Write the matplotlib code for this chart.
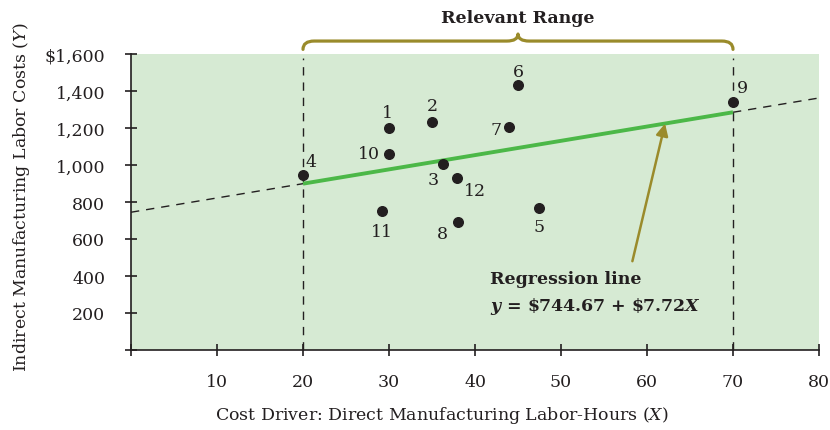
import matplotlib
matplotlib.use("Agg")
import matplotlib.pyplot as plt
from matplotlib.path import Path
from matplotlib.patches import PathPatch

plt.rcParams['font.family'] = ['DejaVu Serif']
plt.rcParams['mathtext.fontset'] = 'custom'
plt.rcParams['mathtext.it'] = 'DejaVu Serif:italic'
plt.rcParams['mathtext.bf'] = 'DejaVu Serif:italic:bold'
plt.rcParams['mathtext.rm'] = 'DejaVu Serif'

# weekly observations: labor-hours (X) and indirect labor costs (Y)
week_ids = ['1', '2', '3', '4', '5', '6', '7', '8', '9', '10', '11', '12']
labor_hours = [30, 35, 36.3, 20, 47.4, 45, 44, 38, 70, 30, 29.2, 37.9]
labor_costs = [1200, 1230, 1005, 944, 770, 1432, 1204, 690, 1340, 1059, 750, 930]
# label offsets (pixels) for each week number
label_dx = [-2, 0, -10, 8, 0, 0, -13, -15, 9, -20, 0, 18]
label_dy = [16, 17, -15, 14, -19, 14, -2, -11, 15, 1, -20, -13]

intercept = 744.67
slope = 7.72
range_lo, range_hi = 20, 70

x_ticks = [0, 10, 20, 30, 40, 50, 60, 70, 80]
x_tick_labels = ['', '10', '20', '30', '40', '50', '60', '70', '80']
y_ticks = [0, 200, 400, 600, 800, 1000, 1200, 1400, 1600]
y_tick_labels = ['', '200', '400', '600', '800', '1,000', '1,200', '1,400', '$1,600']

ink = '#231f20'
olive = '#9a8b2b'
green = '#4cb848'
fs = 12.5

fig = plt.figure(figsize=(8.30, 4.31), dpi=100)
ax = fig.add_axes([131 / 830, 80 / 431, 688 / 830, 296 / 431])
ax.set_facecolor('#d6ead3')
ax.set_xlim(0, 80)
ax.set_ylim(0, 1600)

for side in ('top', 'right'):
    ax.spines[side].set_visible(False)
for side in ('left', 'bottom'):
    ax.spines[side].set_color(ink)
    ax.spines[side].set_linewidth(1.2)

ax.set_xticks(x_ticks)
ax.set_xticklabels(x_tick_labels)
ax.set_yticks(y_ticks)
ax.set_yticklabels(y_tick_labels)
ax.tick_params(axis='both', direction='inout', length=9, width=1.2, colors=ink,
               labelsize=fs)
ax.tick_params(axis='x', pad=12)
ax.tick_params(axis='y', pad=14)

# relevant range boundaries
for xv in (range_lo, range_hi):
    ax.plot([xv, xv], [0, 1580], color=ink, lw=1, ls=(0, (6, 5)), clip_on=False, zorder=2)

# regression line: dashed outside the relevant range, solid green inside
ax.plot([0, range_lo], [intercept, intercept + slope * range_lo], color=ink, lw=1,
        ls=(0, (6, 5)), zorder=2)
ax.plot([range_hi, 80], [intercept + slope * range_hi, intercept + slope * 80], color=ink,
        lw=1, ls=(0, (6, 5)), zorder=2, clip_on=False)
ax.plot([range_lo, range_hi], [intercept + slope * range_lo, intercept + slope * range_hi],
        color=green, lw=2.8, solid_capstyle='butt', zorder=3)

ax.scatter(labor_hours, labor_costs, s=48, color=ink, zorder=4, clip_on=False)
for wk, xv, yv, dx, dy in zip(week_ids, labor_hours, labor_costs, label_dx, label_dy):
    ax.annotate(wk, (xv, yv), xytext=(dx, dy), textcoords='offset pixels',
                ha='center', va='center', fontsize=fs, color=ink)

# curly brace over the relevant range
yb, drop, tip, cw = 1670, 1625, 1708, 1.3
mid = (range_lo + range_hi) / 2
verts = [(range_lo, drop), (range_lo, yb), (range_lo + cw, yb),
         (mid - cw, yb), (mid, yb), (mid, tip),
         (mid, yb), (mid + cw, yb),
         (range_hi - cw, yb), (range_hi, yb), (range_hi, drop)]
codes = [Path.MOVETO, Path.CURVE3, Path.CURVE3,
         Path.LINETO, Path.CURVE3, Path.CURVE3,
         Path.CURVE3, Path.CURVE3,
         Path.LINETO, Path.CURVE3, Path.CURVE3]
ax.add_patch(PathPatch(Path(verts, codes), facecolor='none', edgecolor=olive, lw=2.3,
                       clip_on=False, capstyle='round', joinstyle='round'))
ax.text(mid, 1795, 'Relevant Range', ha='center', va='center', fontsize=fs,
        fontweight='bold', color=ink, clip_on=False)

# regression line callout
arrow_x = 62.1
ax.annotate('', xy=(arrow_x, intercept + slope * arrow_x), xytext=(58.3, 480),
            arrowprops=dict(arrowstyle='-|>', color=olive, lw=1.8,
                            mutation_scale=18, shrinkA=0, shrinkB=0))
ax.text(41.8, 389, 'Regression line', ha='left', va='center', fontsize=fs,
        fontweight='bold', color=ink)
ax.text(41.8, 238, r'$\mathbf{y}$ = \$744.67 + \$7.72$\mathbf{X}$', ha='left', va='center',
        fontsize=fs, fontweight='bold', color=ink)

fig.text(442 / 830, 1 - 416 / 431,
         r'Cost Driver: Direct Manufacturing Labor-Hours ($\mathit{X}$)',
         ha='center', va='center', fontsize=fs, color=ink)
fig.text(22 / 830, 1 - 197 / 431, r'Indirect Manufacturing Labor Costs ($\mathit{Y}$)',
         ha='center', va='center', rotation=90, fontsize=fs, color=ink)

fig.savefig('out.png', dpi=100)
